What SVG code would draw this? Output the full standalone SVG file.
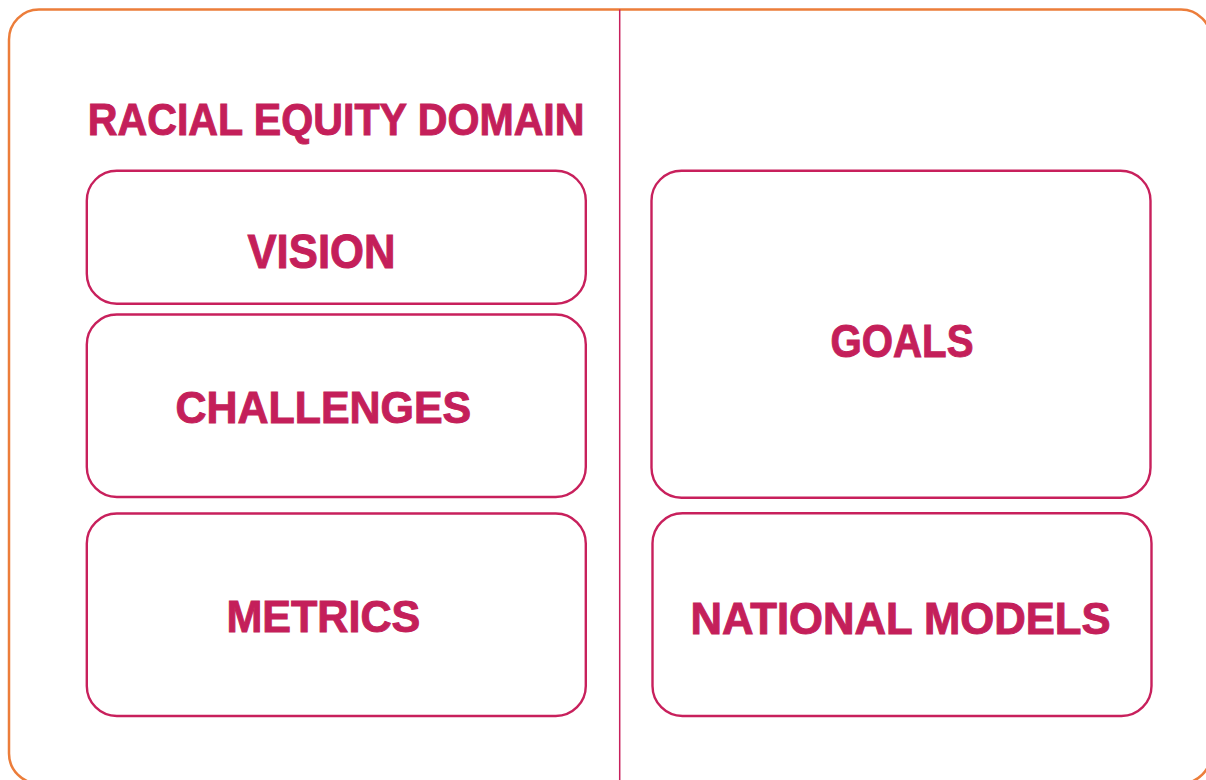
<svg xmlns="http://www.w3.org/2000/svg" width="1206" height="780" viewBox="0 0 1206 780">
<style>
.box{fill:#fff;stroke:#C8205C;stroke-width:2.4}
.lbl{font-family:"Liberation Sans","DejaVu Sans",sans-serif;font-weight:bold;fill:#C41F5A;stroke:#C41F5A;stroke-width:1;font-size:45px}
</style>
<rect width="1206" height="780" fill="#fff"/>
<rect x="9" y="9.5" width="1202" height="774" rx="30" fill="none" stroke="#EC7D3A" stroke-width="2.5"/>
<line x1="619.7" y1="9.5" x2="619.7" y2="780" stroke="#C8205C" stroke-width="1.5"/>
<g id="title"><text class="lbl" x="87.8" y="134.5" textLength="496.7" lengthAdjust="spacingAndGlyphs">RACIAL EQUITY DOMAIN</text></g>
<g id="vision"><rect class="box" x="86.8" y="170.7" width="499" height="133" rx="30"/><text class="lbl" x="247.5" y="268" style="font-size:48px" textLength="148" lengthAdjust="spacingAndGlyphs">VISION</text></g>
<g id="challenges"><rect class="box" x="86.8" y="314.5" width="499" height="182.5" rx="30"/><text class="lbl" x="175.5" y="423" textLength="295.7" lengthAdjust="spacingAndGlyphs">CHALLENGES</text></g>
<g id="metrics"><rect class="box" x="86.8" y="513.5" width="499" height="202.5" rx="30"/><text class="lbl" x="226.5" y="631.5" textLength="193.7" lengthAdjust="spacingAndGlyphs">METRICS</text></g>
<g id="goals"><rect class="box" x="651.5" y="170.7" width="499" height="327" rx="30"/><text class="lbl" x="830.5" y="356.5" style="font-size:46px" textLength="143" lengthAdjust="spacingAndGlyphs">GOALS</text></g>
<g id="national-models"><rect class="box" x="652.5" y="513.3" width="499" height="202.7" rx="30"/><text class="lbl" x="690.5" y="634" textLength="420" lengthAdjust="spacingAndGlyphs">NATIONAL MODELS</text></g>
<g id="connectors"></g>
</svg>
